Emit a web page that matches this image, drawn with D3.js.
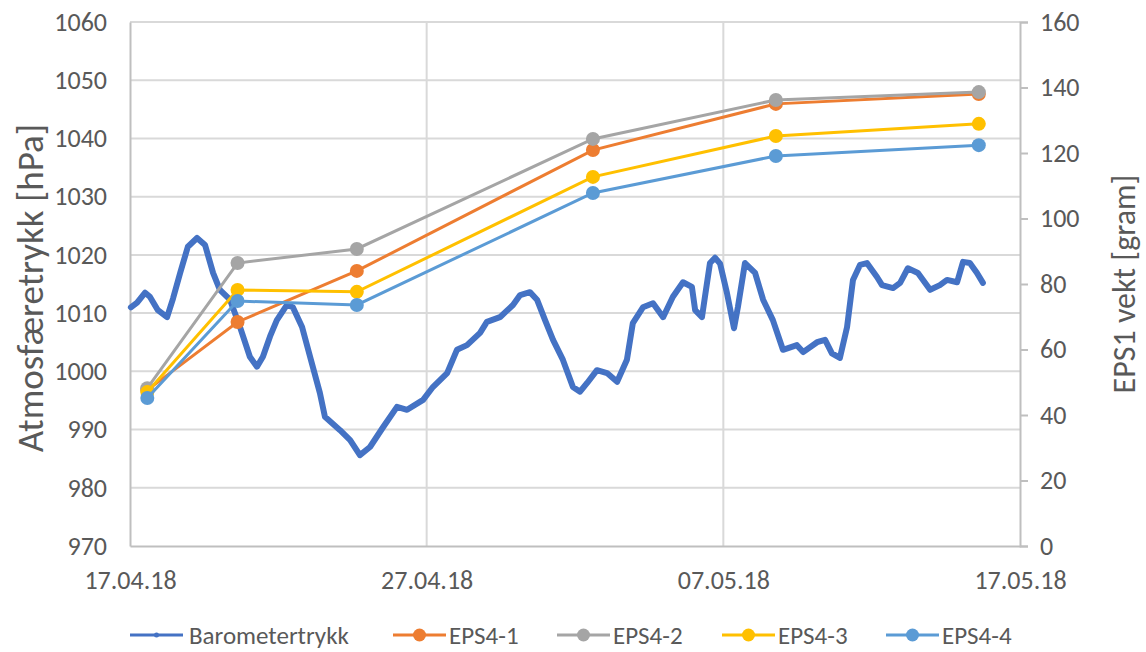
<!DOCTYPE html>
<html>
<head>
<meta charset="utf-8">
<script src="https://cdnjs.cloudflare.com/ajax/libs/d3/7.8.5/d3.min.js"></script>
<style>
  body { margin: 0; background: #fff; }
  text { font-family: Calibri, Carlito, "Open Sans", sans-serif; fill: #595959; }
</style>
</head>
<body>
<div id="chart"></div>
<script>
// barometer readings: days after 17.04.18 00:00, pressure in hPa
const baroDays = [0.03, 0.24, 0.51, 0.67, 0.94, 1.25, 1.45, 1.69, 1.95, 2.26, 2.53, 2.80, 3.03, 3.37,
  3.71, 4.04, 4.28, 4.48, 4.72, 4.95, 5.29, 5.49, 5.80, 6.07, 6.40, 6.57, 7.08, 7.42, 7.75, 8.09,
  8.53, 9.00, 9.34, 9.88, 10.21, 10.69, 11.02, 11.36, 11.80, 12.03, 12.47, 12.91, 13.15, 13.48,
  13.72, 13.99, 14.26, 14.59, 14.93, 15.17, 15.41, 15.74, 16.08, 16.42, 16.75, 16.95, 17.29,
  17.63, 17.97, 18.30, 18.64, 18.94, 19.05, 19.28, 19.38, 19.55, 19.72, 19.89, 20.12, 20.36,
  20.49, 20.73, 21.07, 21.34, 21.67, 22.01, 22.48, 22.69, 23.16, 23.43, 23.66, 23.93, 24.17,
  24.37, 24.61, 24.84, 25.18, 25.35, 25.72, 25.96, 26.22, 26.56, 26.97, 27.30, 27.54, 27.88,
  28.08, 28.31, 28.55, 28.75];
const baroHPa = [1011.0, 1011.8, 1013.5, 1012.8, 1010.5, 1009.3, 1012.5, 1016.9, 1021.4, 1022.9,
  1021.7, 1016.9, 1014.0, 1012.3, 1007.6, 1002.5, 1000.8, 1002.5, 1006.0, 1008.8, 1011.4, 1011.0,
  1007.6, 1002.5, 996.3, 992.2, 989.9, 988.2, 985.6, 987.0, 990.4, 993.9, 993.4, 995.1, 997.3,
  999.7, 1003.7, 1004.5, 1006.6, 1008.5, 1009.3, 1011.4, 1013.1, 1013.6, 1012.3, 1008.8, 1005.4,
  1002.0, 997.3, 996.5, 998.0, 1000.2, 999.7, 998.2, 1002.0, 1008.3, 1011.0, 1011.7, 1009.3,
  1012.8, 1015.3, 1014.5, 1010.5, 1009.3, 1012.8, 1018.6, 1019.5, 1018.5, 1013.5, 1007.4, 1011.0,
  1018.6, 1016.9, 1012.3, 1008.8, 1003.7, 1004.5, 1003.3, 1005.0, 1005.4, 1003.1, 1002.3, 1007.6,
  1015.7, 1018.3, 1018.6, 1016.2, 1014.8, 1014.3, 1015.2, 1017.7, 1016.9, 1014.0, 1014.8, 1015.7,
  1015.3, 1018.8, 1018.6, 1016.9, 1015.2];

// weighings of the EPS samples (gram)
const epsDates = ["2018-04-17T14:00", "2018-04-20T15:00", "2018-04-24T15:30",
  "2018-05-02T14:30", "2018-05-08T18:30", "2018-05-15T14:40"];
const eps41 = [47.6, 68.4, 84.0, 120.9, 135.0, 138.0];
const eps42 = [48.2, 86.4, 90.7, 124.3, 136.2, 138.6];
const eps43 = [47.0, 78.2, 77.6, 112.7, 125.2, 128.9];
const eps44 = [45.2, 74.8, 73.6, 107.8, 119.1, 122.4];

const leftTicks = [970, 980, 990, 1000, 1010, 1020, 1030, 1040, 1050, 1060];
const rightTicks = [0, 20, 40, 60, 80, 100, 120, 140, 160];
const dateTicks = ["2018-04-17", "2018-04-27", "2018-05-07", "2018-05-17"];

const width = 1146, height = 652;
const margin = {top: 22, right: 126, bottom: 106, left: 130};

const parseDay = d3.timeParse("%Y-%m-%d");
const parseTime = d3.timeParse("%Y-%m-%dT%H:%M");
const start = parseDay(dateTicks[0]);

const x = d3.scaleTime()
    .domain([start, parseDay(dateTicks[3])])
    .range([margin.left, width - margin.right]);
const yL = d3.scaleLinear().domain([970, 1060]).range([height - margin.bottom, margin.top]);
const yR = d3.scaleLinear().domain([0, 160]).range([height - margin.bottom, margin.top]);

let svg = d3.select("#chart").append("svg")
    .attr("width", width)
    .attr("height", height);

// horizontal grid
svg.append("g").selectAll("line")
    .data(leftTicks.slice(1))
    .enter().append("line")
    .attr("x1", margin.left).attr("x2", width - margin.right)
    .attr("y1", d => yL(d)).attr("y2", d => yL(d))
    .attr("stroke", "#d9d9d9").attr("stroke-width", 2);

// vertical grid
svg.append("g").selectAll("line")
    .data(dateTicks.slice(1, 3))
    .enter().append("line")
    .attr("x1", d => x(parseDay(d))).attr("x2", d => x(parseDay(d)))
    .attr("y1", margin.top).attr("y2", height - margin.bottom)
    .attr("stroke", "#d9d9d9").attr("stroke-width", 2);

// left axis
let gL = svg.append("g")
    .attr("transform", `translate(${margin.left},0)`)
    .call(d3.axisLeft(yL).tickValues(leftTicks).tickFormat(d3.format("d"))
        .tickSize(0).tickPadding(23));
gL.select(".domain").attr("stroke", "#bfbfbf").attr("stroke-width", 2);
gL.selectAll("text").style("font-size", "26px").attr("fill", "#595959").attr("font-family", null);

// right axis
let gR = svg.append("g")
    .attr("transform", `translate(${width - margin.right},0)`)
    .call(d3.axisRight(yR).tickValues(rightTicks).tickSizeOuter(0).tickSize(8).tickPadding(12));
gR.select(".domain").attr("stroke", "#bfbfbf").attr("stroke-width", 2);
gR.selectAll("line").attr("stroke", "#bfbfbf").attr("stroke-width", 2);
gR.selectAll("text").style("font-size", "26px").attr("fill", "#595959").attr("font-family", null);

// bottom axis
let gB = svg.append("g")
    .attr("transform", `translate(0,${height - margin.bottom})`)
    .call(d3.axisBottom(x).tickValues(dateTicks.map(parseDay))
        .tickFormat(d3.timeFormat("%d.%m.%y")).tickSize(0).tickPadding(25));
gB.select(".domain").attr("stroke", "#bfbfbf").attr("stroke-width", 2);
gB.selectAll("text").style("font-size", "26px").attr("fill", "#595959").attr("font-family", null);

// axis titles
svg.append("text")
    .attr("transform", `translate(30,288) rotate(-90)`)
    .attr("text-anchor", "middle")
    .attr("dy", "0.35em")
    .style("font-size", "37px")
    .text("Atmosfæretrykk [hPa]");
svg.append("text")
    .attr("transform", `translate(1124,284) rotate(-90)`)
    .attr("text-anchor", "middle")
    .attr("dy", "0.35em")
    .style("font-size", "32px")
    .text("EPS1 vekt [gram]");

// barometer line
const baro = baroDays.map((d, i) => ({t: d3.timeMinute.offset(start, Math.round(d * 1440)), v: baroHPa[i]}));
svg.append("path")
    .datum(baro)
    .attr("fill", "none")
    .attr("stroke", "#4472c4")
    .attr("stroke-width", 6)
    .attr("stroke-linejoin", "round")
    .attr("stroke-linecap", "round")
    .attr("d", d3.line().x(d => x(d.t)).y(d => yL(d.v)));

// EPS series
const series = [
  {name: "EPS4-1", values: eps41, color: "#ed7d31"},
  {name: "EPS4-2", values: eps42, color: "#a5a5a5"},
  {name: "EPS4-3", values: eps43, color: "#ffc000"},
  {name: "EPS4-4", values: eps44, color: "#5b9bd5"}
];
const epsLine = d3.line().x(d => x(d.t)).y(d => yR(d.v));

series.forEach(s => {
  const pts = s.values.map((v, i) => ({t: parseTime(epsDates[i]), v: v}));
  let g = svg.append("g");
  g.append("path")
      .datum(pts)
      .attr("fill", "none")
      .attr("stroke", s.color)
      .attr("stroke-width", 3)
      .attr("d", epsLine);
  g.selectAll("circle")
      .data(pts)
      .enter().append("circle")
      .attr("cx", d => x(d.t))
      .attr("cy", d => yR(d.v))
      .attr("r", 7)
      .attr("fill", s.color);
});

// legend
const legendItems = [{name: "Barometertrykk", color: "#4472c4", r: 2.5}]
    .concat(series.map(s => ({name: s.name, color: s.color, r: 6.5})));
const legendX = [130, 393, 557, 722, 886];
const ly = 635;
legendItems.forEach((item, i) => {
  let g = svg.append("g").attr("transform", `translate(${legendX[i]},${ly})`);
  g.append("line")
      .attr("x1", 0).attr("x2", 53)
      .attr("stroke", item.color).attr("stroke-width", 3);
  g.append("circle")
      .attr("cx", 26.5).attr("r", item.r).attr("fill", item.color);
  g.append("text")
      .attr("x", i === 0 ? 59 : 56).attr("dy", "0.35em")
      .style("font-size", "25px")
      .text(item.name);
});
</script>
</body>
</html>
